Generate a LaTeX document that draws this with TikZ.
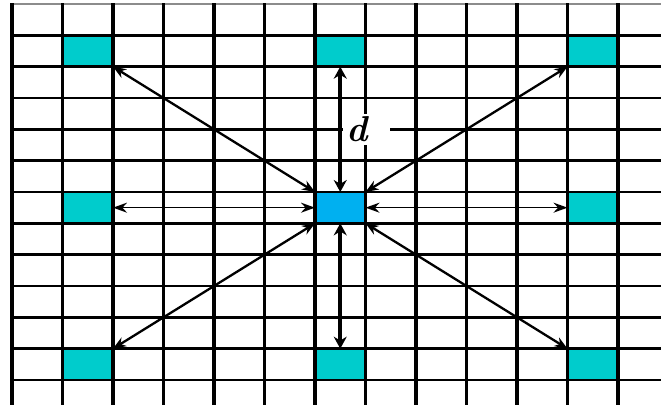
\documentclass[tikz,border=0pt]{standalone}
\usetikzlibrary{arrows.meta,positioning}
\definecolor{nbcyan}{RGB}{0,204,204}
\definecolor{ctrblue}{RGB}{0,176,240}
\tikzset{
  >={Stealth[length=13pt,width=10pt]},
  node distance=125.33pt and 202pt,
  cell/.style={minimum width=50.5pt,minimum height=31.33pt,inner sep=0pt,
    outer sep=0pt},
  nbcell/.style={cell,fill=nbcyan},
  ctrcell/.style={cell,fill=ctrblue},
  gridv/.style={line width=3.4pt},
  gridh/.style={line width=2.5pt},
  diag/.style={<->,line width=2.3pt},
  vert/.style={<->,line width=4pt,>={Stealth[length=12pt,width=13pt]}},
  horz/.style={<->,line width=1.6pt,>={Stealth[length=14pt,width=10pt]}},
  dlbl/.style={fill=white,minimum width=47pt,minimum height=31pt,inner sep=0pt,
    font=\fontsize{36}{36}\selectfont\bfseries\itshape},
}
\begin{document}
\begin{tikzpicture}[x=1pt,y=-1pt]
  \useasboundingbox (0,0) rectangle (661,405);
  % centre cell and its eight neighbours
  \node[ctrcell] (c) at (340.25,207.67) {};
  \node[nbcell,above left=of c] (tl) {};
  \node[nbcell,above=of c] (tm) {};
  \node[nbcell,above right=of c] (tr) {};
  \node[nbcell,left=of c] (ml) {};
  \node[nbcell,right=of c] (mr) {};
  \node[nbcell,below left=of c] (bl) {};
  \node[nbcell,below=of c] (bm) {};
  \node[nbcell,below right=of c] (br) {};
  % grid
  \draw[line width=1.2pt,black!45] (12,4) -- (661,4);
  \foreach \j in {1,...,12}
    \draw[gridh] (12,4+31.33*\j) -- (661,4+31.33*\j);
  \foreach \i in {0,...,12}
    \draw[gridv] (12+50.5*\i,3) -- (12+50.5*\i,405);
  % distance label
  \path (tm.south) -- (c.north)
    node[midway,dlbl,anchor=west,xshift=3pt] (d) {d\kern20pt};
  % arrows
  \draw[diag] (tl.south east) -- (c.north west);
  \draw[vert] (tm.south) -- (c.north);
  \draw[diag] (tr.south west) -- (c.north east);
  \draw[horz] (ml.east) -- (c.west);
  \draw[horz] (c.east) -- (mr.west);
  \draw[diag] (bl.north east) -- (c.south west);
  \draw[vert] (bm.north) -- (c.south);
  \draw[diag] (br.north west) -- (c.south east);
\end{tikzpicture}
\end{document}
